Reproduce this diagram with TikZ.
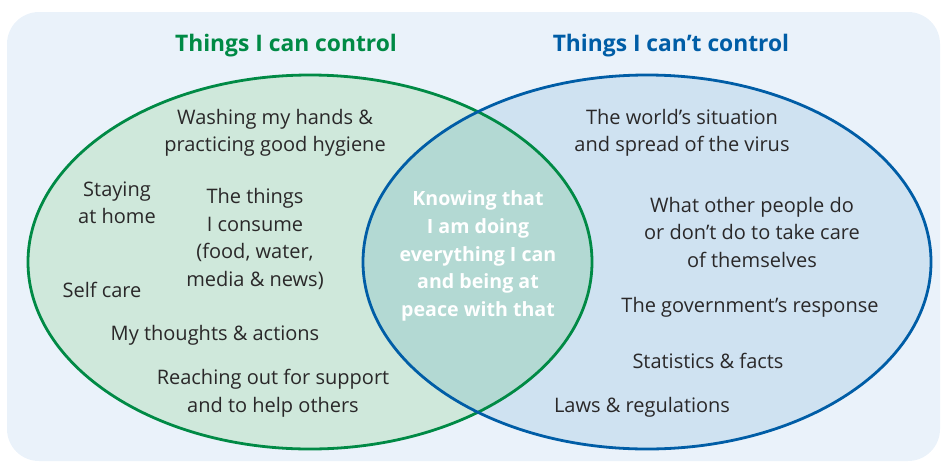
\documentclass[tikz,border=0pt]{standalone}
\usepackage{fontspec}
\setmainfont{Open Sans}
\definecolor{panelbg}{HTML}{EAF2FA}
\definecolor{cangreen}{HTML}{008A45}
\definecolor{cantblue}{HTML}{005DA6}
\definecolor{cangreenfill}{HTML}{CFE8DB}
\definecolor{cantbluefill}{HTML}{CFE2F1}
\definecolor{bothfill}{HTML}{B3D9D3}
\definecolor{itemtext}{HTML}{2A2829}
\begin{document}
\begin{tikzpicture}[x=1pt,y=-1pt, line cap=round, line join=round,
  item/.style={align=center, text=itemtext, font=\fontsize{20}{27.5}\selectfont, inner sep=0pt},
  heading/.style={font=\fontsize{22.8}{26}\selectfont\bfseries, inner sep=0pt},
  middle/.style={item, text=white, font=\fontsize{19.6}{27.8}\selectfont\bfseries}]
\useasboundingbox (0,0) rectangle (941,461);
% panel behind the two sets
\fill[panelbg,rounded corners=32pt] (7,12) rectangle (940,461);
% set fills, with the overlap tinted darker
\fill[cangreenfill] (310,262) ellipse [x radius=282, y radius=187];
\fill[cantbluefill] (647,262) ellipse [x radius=284, y radius=187];
\begin{scope}
  \clip (310,262) ellipse [x radius=282, y radius=187];
  \fill[bothfill] (647,262) ellipse [x radius=284, y radius=187];
\end{scope}
\draw[cangreen,line width=2.8pt] (310,262) ellipse [x radius=282, y radius=187];
\draw[cantblue,line width=2.8pt] (647,262) ellipse [x radius=284, y radius=187];

% headings
\node[heading,text=cangreen] (canhead) at (286,46) {Things I can control};
\node[heading,text=cantblue] (canthead) at (671,46) {Things I can’t control};

% things I can control
\node[item] (hygiene) at (275,133) {Washing my hands \&\\practicing good hygiene};
\node[item] (home) at (117,203) {Staying\\at home};
\node[item] (consume) at (255,239) {The things\\I consume\\(food, water,\\media \& news)};
\node[item] (selfcare) at (102,290) {Self care};
\node[item] (thoughts) at (215,335) {My thoughts \& actions};
\node[item] (support) at (273,393) {Reaching out for support\\and to help others};

% overlap
\node[middle] (peace) at (478,256) {Knowing that\\I am doing\\everything I can\\and being at\\peace with that};

% things I can't control
\node[item] (world) at (682,133) {The world’s situation\\and spread of the virus};
\node[item] (others) at (752,232) {What other people do\\or don’t do to take care\\of themselves};
\node[item] (govt) at (750,307) {The government’s response};
\node[item] (stats) at (708,361) {Statistics \& facts};
\node[item] (laws) at (642,407) {Laws \& regulations};
\end{tikzpicture}
\end{document}
